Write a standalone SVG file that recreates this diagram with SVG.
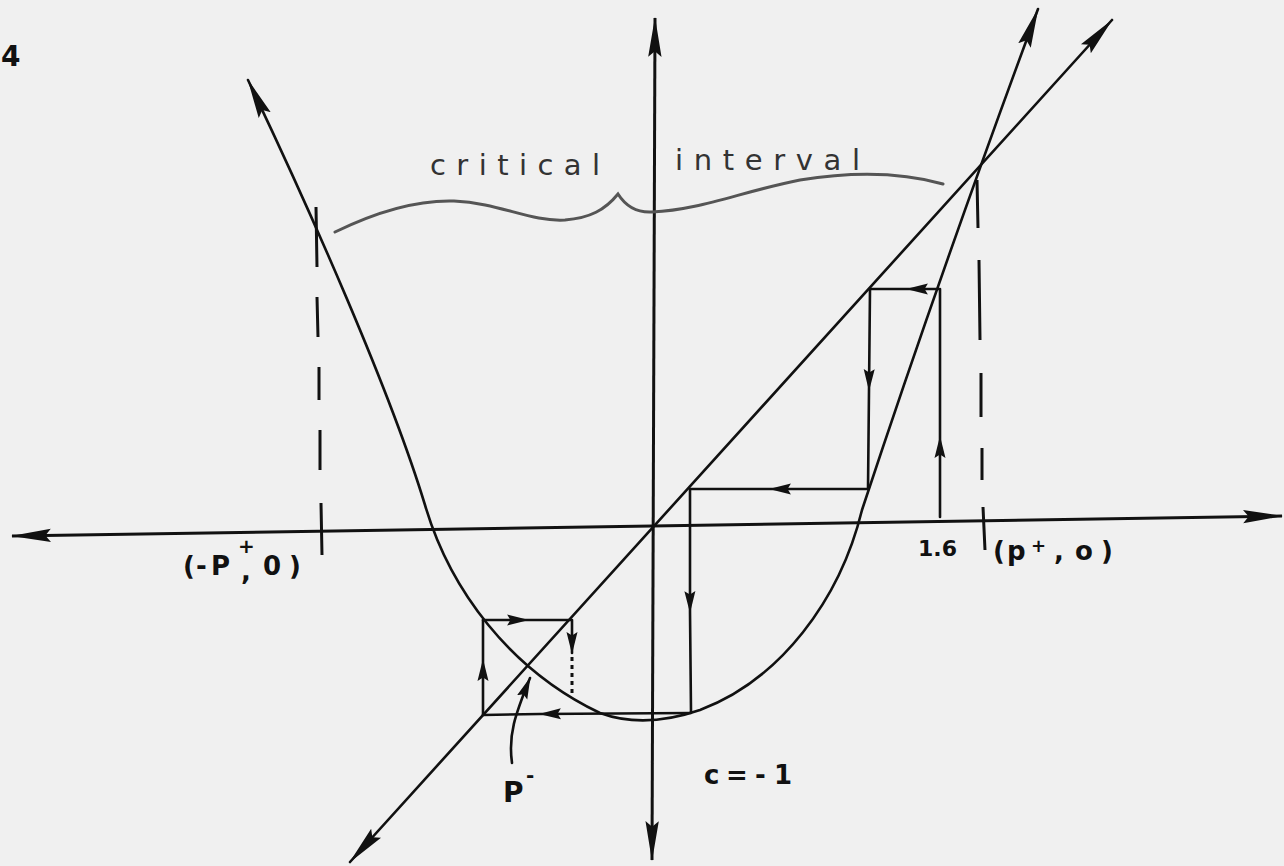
<svg xmlns="http://www.w3.org/2000/svg" width="1284" height="866" viewBox="0 0 1284 866">
<style>
.ln{fill:none;stroke:#111;stroke-width:2.6;stroke-linecap:round;stroke-linejoin:round}
.ax{fill:none;stroke:#111;stroke-width:3}
.dash{fill:none;stroke:#111;stroke-width:3}
.dot{fill:none;stroke:#111;stroke-width:3;stroke-dasharray:4 4}
.brace{fill:none;stroke:#555;stroke-width:3;stroke-linecap:round}
.t{font-family:"DejaVu Sans",sans-serif;fill:#111;font-weight:bold}
.h{font-family:"DejaVu Sans",sans-serif;fill:#333;font-size:29px}
</style>
<defs>
<marker id="ah" markerUnits="userSpaceOnUse" markerWidth="40" markerHeight="16" viewBox="0 0 36 14" refX="35" refY="7" orient="auto-start-reverse"><path d="M0,1 L36,7 L0,13 L5,7 Z" fill="#111"/></marker>
<marker id="mh" markerUnits="userSpaceOnUse" markerWidth="22" markerHeight="12" viewBox="0 0 20 10" refX="19" refY="5" orient="auto"><path d="M0,0 L20,5 L0,10 L3,5 Z" fill="#111"/></marker>
</defs>
<rect width="1284" height="866" fill="#f0f0f0"/>
<text class="t" x="1" y="66" font-size="28">4</text>

<g id="axes">
<path class="ax" d="M12,536 L1282,516" marker-start="url(#ah)" marker-end="url(#ah)"/>
<path class="ax" d="M652,860 L655,18" marker-start="url(#ah)" marker-end="url(#ah)"/>
</g>

<g id="diagonal">
<path class="ln" d="M350,862 L1112,20" marker-start="url(#ah)" marker-end="url(#ah)"/>
</g>

<g id="parabola">
<path class="ln" d="M248,80 C310,210 390,390 425,505 C450,590 510,670 600,713 C630,724 665,722 700,710 C780,680 840,600 862,510 C895,410 958,225 1038,9" marker-start="url(#ah)" marker-end="url(#ah)"/>
</g>

<g id="dashed">
<path class="dash" d="M316,207 L317,267 M317,297 L318,337 M319,367 L319,400 M320,430 L320,470 M321,503 L322,555"/>
<path class="dash" d="M977,180 L978,228 M979,260 L980,340 M981,373 L981,417 M982,448 L982,480 M983,507 L985,550"/>
</g>

<g id="brace">
<path class="brace" d="M335,232 C380,210 420,200 454,201 C500,203 530,222 565,220 C590,218 605,210 618,194 C625,205 635,213 652,212 C700,210 740,192 800,180 C850,172 900,172 943,184"/>
</g>

<g id="cobweb">
<path class="ln" d="M940,517 L940,437 L940,290" marker-mid="url(#mh)"/>
<path class="ln" d="M940,289 L907,289 L870,289" marker-mid="url(#mh)"/>
<path class="ln" d="M870,289 L869,390 L868,489" marker-mid="url(#mh)"/>
<path class="ln" d="M868,489 L770,489 L690,489" marker-mid="url(#mh)"/>
<path class="ln" d="M690,489 L690,612 L691,712" marker-mid="url(#mh)"/>
<path class="ln" d="M691,713 L540,714 L483,715" marker-mid="url(#mh)"/>
<path class="ln" d="M483,715 L483,660 L483,620" marker-mid="url(#mh)"/>
<path class="ln" d="M483,620 L528,620 L571,620" marker-mid="url(#mh)"/>
<path class="ln" d="M572,620 L572,653" marker-end="url(#mh)"/>
<path class="dot" d="M572,657 L572,694"/>
<path class="ln" d="M512,763 C508,735 515,715 530,678" marker-end="url(#mh)"/>
</g>

<g id="labels">
<text class="h" x="430" y="175" textLength="170" lengthAdjust="spacing">critical</text>
<text class="h" x="675" y="170" textLength="185" lengthAdjust="spacing">interval</text>
<text class="t" font-size="26" y="575"><tspan x="183">(</tspan><tspan x="196">-</tspan><tspan x="211">P</tspan><tspan x="238" y="553" font-size="20">+</tspan><tspan x="241" y="580" font-size="26">,</tspan><tspan x="263" y="575">0</tspan><tspan x="289">)</tspan></text>
<text class="t" font-size="22" x="918" y="556">1.6</text>
<text class="t" font-size="26" y="560"><tspan x="993">(</tspan><tspan x="1007">p</tspan><tspan x="1031" y="552" font-size="18">+</tspan><tspan x="1054" y="560" font-size="26">,</tspan><tspan x="1075">o</tspan><tspan x="1101">)</tspan></text>
<text class="t" font-size="28" y="802"><tspan x="503">P</tspan><tspan x="526" y="782" font-size="20">-</tspan></text>
<text class="t" font-size="26" y="784"><tspan x="704">c</tspan><tspan x="726">=</tspan><tspan x="755">-</tspan><tspan x="774">1</tspan></text>
</g>
</svg>
